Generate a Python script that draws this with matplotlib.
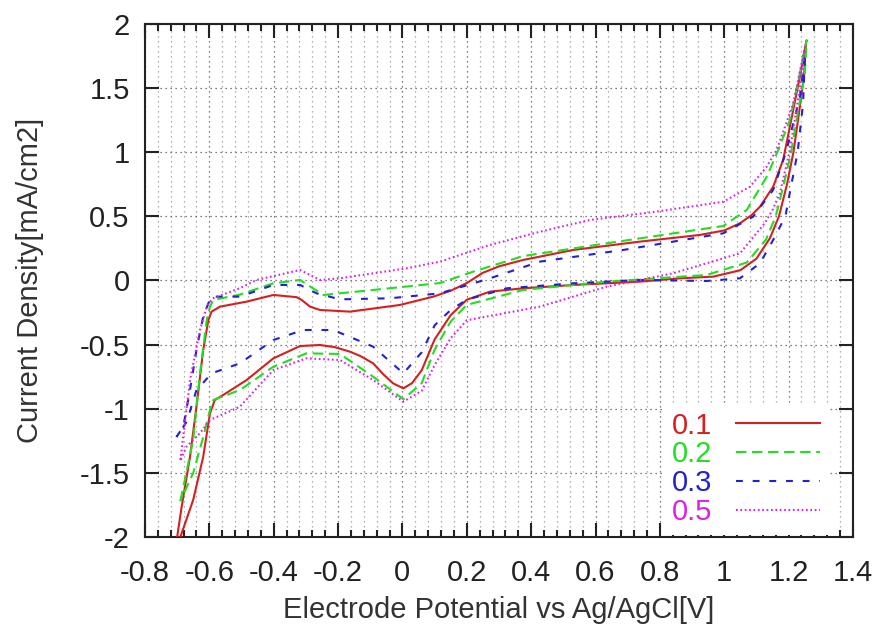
import numpy as np
import matplotlib
matplotlib.use("Agg")
import matplotlib.pyplot as plt
from matplotlib.ticker import MultipleLocator

plt.rcParams['font.family'] = ['Liberation Sans', 'DejaVu Sans']

labels = ["0.1", "0.2", "0.3", "0.5"]
colors = ["#d42020", "#22dd22", "#2222d0", "#e020e0"]

# 0.1 : loop (upper branch left->right, then lower branch right->left)
x_01 = [-0.700, -0.686, -0.660, -0.640, -0.619, -0.603, -0.593, -0.567, -0.484, -0.401, -0.329, -0.313,
        -0.287, -0.256, -0.163, -0.008, 0.096, 0.150, 0.200, 0.250, 0.300, 0.375, 0.531, 0.738, 0.924, 1.000, 1.049,
        1.085, 1.111, 1.152, 1.183, 1.204, 1.235, 1.254,
        1.248, 1.232, 1.215, 1.195, 1.170, 1.142, 1.100, 1.050, 0.966, 0.862, 0.738, 0.531, 0.375,
        0.272, 0.200, 0.150, 0.100, 0.060, 0.030, 0.003, -0.029, -0.060, -0.091, -0.130, -0.163, -0.210, -0.256,
        -0.318, -0.401, -0.484, -0.557, -0.583, -0.598, -0.619, -0.650, -0.690]
y_01 = [-2.00, -1.764, -1.374, -0.984, -0.542, -0.308, -0.243, -0.204, -0.165, -0.113, -0.130, -0.152,
        -0.204, -0.230, -0.243, -0.191, -0.126, -0.080, -0.020, 0.060, 0.110, 0.160, 0.238, 0.303, 0.355, 0.390, 0.446,
        0.510, 0.575, 0.731, 0.940, 1.200, 1.590, 1.850,
        1.600, 1.300, 1.000, 0.750, 0.500, 0.330, 0.170, 0.080, 0.030, 0.017, -0.009, -0.035, -0.061,
        -0.087, -0.150, -0.270, -0.460, -0.700, -0.800, -0.841, -0.802, -0.730, -0.646, -0.590, -0.555, -0.520, -0.503,
        -0.511, -0.607, -0.776, -0.893, -0.932, -1.036, -1.374, -1.710, -2.00]

# 0.2
x_02 = [-0.690, -0.650, -0.629, -0.608, -0.598, -0.588, -0.505, -0.401, -0.318, -0.246, -0.091, 0.117,
        0.220, 0.375, 0.635, 0.997, 1.070, 1.132, 1.168, 1.204, 1.235, 1.256,
        1.250, 1.228, 1.208, 1.183, 1.160, 1.130, 1.070, 0.945, 0.635, 0.375, 0.200, 0.150, 0.100, 0.060,
        0.003, -0.091, -0.194, -0.298, -0.401, -0.505, -0.588, -0.598, -0.619, -0.650, -0.690]
y_02 = [-1.72, -1.24, -0.724, -0.308, -0.204, -0.152, -0.110, -0.022, 0.004, -0.113, -0.074, -0.020,
        0.069, 0.190, 0.290, 0.425, 0.550, 0.809, 1.018, 1.251, 1.616, 1.875,
        1.600, 1.300, 1.000, 0.730, 0.500, 0.320, 0.140, 0.043, -0.009, -0.074, -0.190, -0.320, -0.540, -0.800,
        -0.926, -0.750, -0.573, -0.568, -0.672, -0.854, -0.932, -1.010, -1.220, -1.500, -1.72]

# 0.3
x_03 = [-0.702, -0.681, -0.660, -0.640, -0.619, -0.603, -0.593, -0.505, -0.401, -0.318, -0.267, -0.194,
        -0.039, 0.117, 0.272, 0.427, 0.686, 0.997, 1.090, 1.152, 1.194, 1.235, 1.251,
        1.245, 1.228, 1.205, 1.190, 1.152, 1.111, 1.049, 0.945, 0.738, 0.531, 0.324, 0.200, 0.150, 0.100,
        0.060, 0.003, -0.091, -0.215, -0.308, -0.401, -0.505, -0.593, -0.620, -0.640, -0.670, -0.702]
y_03 = [-1.22, -1.14, -0.854, -0.542, -0.282, -0.178, -0.126, -0.126, -0.035, -0.035, -0.100, -0.147,
        -0.139, -0.100, 0.017, 0.147, 0.238, 0.368, 0.498, 0.706, 1.018, 1.433, 1.770,
        1.380, 1.000, 0.700, 0.500, 0.316, 0.134, 0.017, -0.004, 0.004, -0.022, -0.061, -0.150, -0.230, -0.350,
        -0.560, -0.724, -0.516, -0.386, -0.386, -0.464, -0.646, -0.724, -0.800, -0.854, -1.100, -1.22]

# 0.5
x_05 = [-0.690, -0.660, -0.629, -0.608, -0.590, -0.505, -0.453, -0.318, -0.256, -0.194, 0.013, 0.117,
        0.272, 0.427, 0.583, 0.790, 0.997, 1.080, 1.132, 1.163, 1.214, 1.251,
        1.235, 1.204, 1.173, 1.150, 1.127, 1.049, 0.841, 0.635, 0.427, 0.200, 0.150, 0.100, 0.060, 0.003,
        -0.091, -0.194, -0.298, -0.401, -0.505, -0.598, -0.629, -0.671, -0.690]
y_05 = [-1.40, -0.776, -0.386, -0.204, -0.140, -0.060, 0.004, 0.082, 0.004, 0.017, 0.095, 0.147,
        0.277, 0.380, 0.472, 0.537, 0.614, 0.731, 0.887, 1.018, 1.376, 1.820,
        1.500, 1.018, 0.680, 0.550, 0.450, 0.212, 0.056, -0.048, -0.204, -0.310, -0.450, -0.660, -0.860, -0.945,
        -0.776, -0.620, -0.607, -0.698, -0.984, -1.088, -1.190, -1.296, -1.40]

xs = [x_01, x_02, x_03, x_05]
ys = [y_01, y_02, y_03, y_05]
styles = ['-', (0, (5, 2.7)), (0, (3.3, 4.7)), (0, (0.8, 1.3))]

fig = plt.figure(figsize=(8.77, 6.26), dpi=100)
ax = fig.add_axes([0.1653, 0.1422, 0.8073, 0.8195])

ax.set_xlim(-0.8, 1.4)
ax.set_ylim(-2, 2)
ax.xaxis.set_major_locator(MultipleLocator(0.2))
ax.xaxis.set_minor_locator(MultipleLocator(0.04))
ax.yaxis.set_major_locator(MultipleLocator(0.5))
ax.grid(which='major', axis='both', color='#555555', linestyle=(0, (1, 3)), linewidth=0.9)
ax.grid(which='minor', axis='x', color='#999999', linestyle=(0, (1, 3)), linewidth=0.9)

handles = []
for x, y, c, ls, lab in zip(xs, ys, colors, styles, labels):
    ln, = ax.plot(x, y, color=c, linestyle=ls, linewidth=1.5, label=lab, zorder=3)
    handles.append(ln)

def fmt(v, pos=None):
    s = ('%.1f' % v).rstrip('0').rstrip('.')
    if s == '-0':
        s = '0'
    return s

ax.xaxis.set_major_formatter(plt.FuncFormatter(fmt))
ax.yaxis.set_major_formatter(plt.FuncFormatter(fmt))
ax.tick_params(which='both', direction='in', top=True, right=True, labelsize=21, width=1.5,
               color='#222222', labelcolor='#222222')
ax.tick_params(which='major', length=10)
ax.tick_params(which='minor', length=5)
ax.tick_params(axis='x', which='major', pad=16)
ax.tick_params(axis='y', which='major', pad=11)
for sp in ax.spines.values():
    sp.set_linewidth(1.5)
    sp.set_color('#222222')

ax.set_xlabel('Electrode Potential vs Ag/AgCl[V]', fontsize=21, color='#333333', labelpad=6)
ax.set_ylabel('Current Density[mA/cm2]', fontsize=21, color='#333333', labelpad=26)

leg = ax.legend(handles=handles, loc='lower right', bbox_to_anchor=(0.966, 0.004),
                markerfirst=False, labelcolor='linecolor',
                fontsize=21, handlelength=2.9, handletextpad=0.8, labelspacing=0.03,
                frameon=True, fancybox=False, borderaxespad=0.0, borderpad=0.3)
leg.get_frame().set_edgecolor('none')
leg.get_frame().set_facecolor('white')
leg.get_frame().set_alpha(1)

fig.savefig('out.png', dpi=100)
